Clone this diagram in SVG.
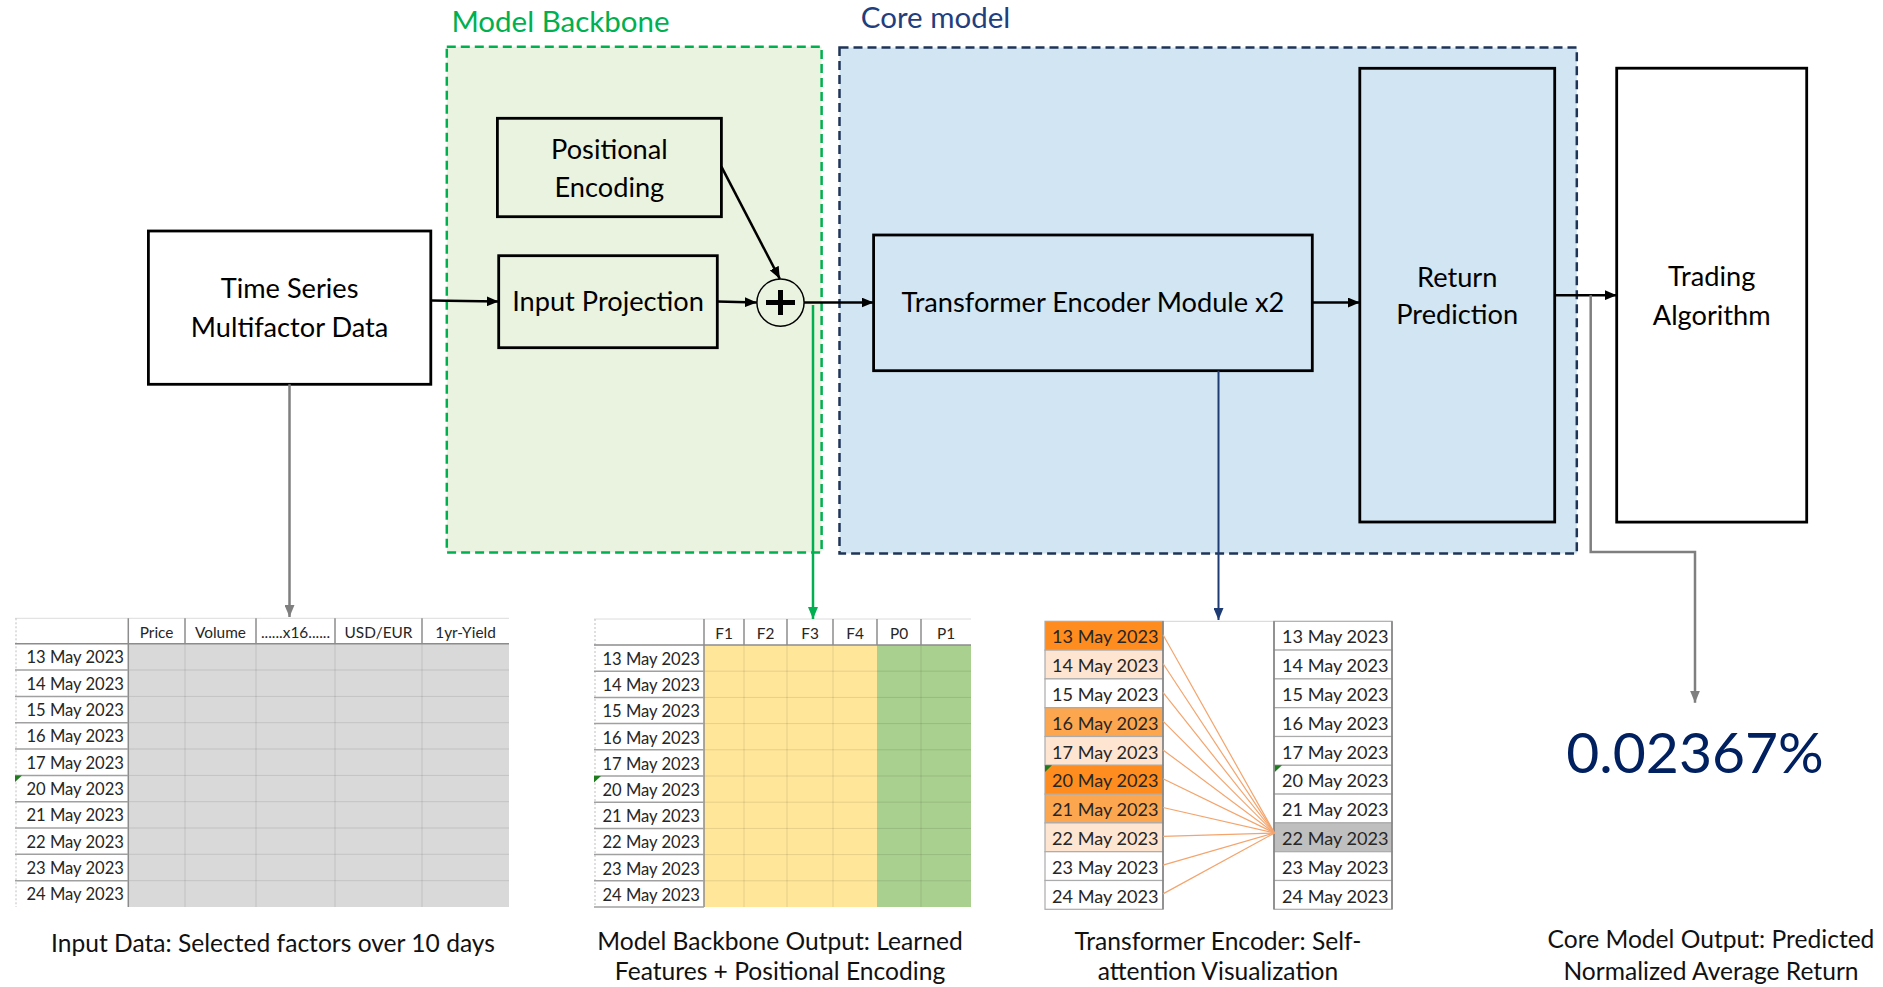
<svg xmlns="http://www.w3.org/2000/svg" width="1883" height="987" viewBox="0 0 1883 987">
  <style>
    text { font-family: Lato, "Liberation Sans", sans-serif; }
    .box { stroke: #000; stroke-width: 2.8; }
    .node { font-size: 27.2px; fill: #000; text-anchor: middle; }
    .hdr { font-size: 29.5px; }
    .cap { font-size: 24.6px; fill: #111; text-anchor: middle; }
    .date { font-size: 16.6px; fill: #262626; text-anchor: end; }
    .colh { font-size: 15.4px; fill: #262626; text-anchor: middle; }
    .date3 { font-size: 18.1px; fill: #262626; text-anchor: end; }
    .conn { stroke: #000; stroke-width: 2.5; fill: none; }
    .grid { stroke: #000; stroke-opacity: 0.1; stroke-width: 1; }
    .hsep { stroke: #8c8c8c; stroke-width: 1.5; }
    .rsep { stroke: #a0a0a0; stroke-width: 1.5; }
    .flag { fill: #1e7b1e; }
    .att { stroke: #f4a46c; stroke-width: 1.2; fill: none; }
    .cell3 { stroke: #ababab; stroke-width: 1.2; }
  </style>
  <defs>
    <marker id="arrow-black" markerUnits="userSpaceOnUse" markerWidth="12" markerHeight="10" refX="12" refY="5" orient="auto">
      <path d="M0,0 L12,5 L0,10 z" fill="#000"/>
    </marker>
    <marker id="arrow-grey" markerUnits="userSpaceOnUse" markerWidth="12" markerHeight="10" refX="12" refY="5" orient="auto">
      <path d="M0,0 L12,5 L0,10 z" fill="#7f7f7f"/>
    </marker>
    <marker id="arrow-green" markerUnits="userSpaceOnUse" markerWidth="12" markerHeight="10" refX="12" refY="5" orient="auto">
      <path d="M0,0 L12,5 L0,10 z" fill="#00b050"/>
    </marker>
    <marker id="arrow-navy" markerUnits="userSpaceOnUse" markerWidth="12" markerHeight="10" refX="12" refY="5" orient="auto">
      <path d="M0,0 L12,5 L0,10 z" fill="#1f3b73"/>
    </marker>
  </defs>

  <rect width="1883" height="987" fill="#fff"/>

  <!-- Model backbone group frame -->
  <g id="group-backbone">
    <rect x="446.8" y="46.7" width="374.8" height="505.7" fill="#e9f3df" stroke="#00b050" stroke-width="2.5" stroke-dasharray="9 5"/>
    <text class="hdr" x="451.4" y="31.7" fill="#00b050">Model Backbone</text>
  </g>

  <!-- Core model group frame -->
  <g id="group-core">
    <rect x="839.5" y="47.5" width="737.3" height="506" fill="#d1e5f2" stroke="#1f3557" stroke-width="2.5" stroke-dasharray="9 5"/>
    <text class="hdr" x="860.8" y="28.3" fill="#1f3f80">Core model</text>
  </g>

  <g id="node-timeseries">
    <rect class="box" x="148.4" y="231" width="282.4" height="153.3" fill="#fff"/>
    <text class="node" x="289.6" y="297.7">Time Series</text>
    <text class="node" x="289.6" y="336.7">Multifactor Data</text>
  </g>

  <g id="node-positional">
    <rect class="box" x="497.4" y="118.3" width="224" height="98.4" fill="#e9f3df"/>
    <text class="node" x="609.4" y="159.3">Positional</text>
    <text class="node" x="609.4" y="196.7">Encoding</text>
  </g>

  <g id="node-projection">
    <rect class="box" x="498.7" y="255.7" width="218.6" height="92" fill="#e9f3df"/>
    <text class="node" x="608" y="310.7">Input Projection</text>
  </g>

  <g id="node-add">
    <circle cx="780.5" cy="302.6" r="23.6" fill="none" stroke="#000" stroke-width="1.5"/>
    <path d="M766,302.6 H795 M780.5,290 V315" stroke="#000" stroke-width="5"/>
  </g>

  <g id="node-encoder">
    <rect class="box" x="873.6" y="235" width="438.7" height="135.7" fill="#d1e5f2"/>
    <text class="node" x="1093" y="311.7">Transformer Encoder Module x2</text>
  </g>

  <g id="node-return">
    <rect class="box" x="1359.8" y="68.3" width="194.9" height="453.7" fill="#d1e5f2"/>
    <text class="node" x="1457.2" y="286.7">Return</text>
    <text class="node" x="1457.2" y="324">Prediction</text>
  </g>

  <g id="node-trading">
    <rect class="box" x="1616.7" y="68.2" width="190" height="453.9" fill="#fff"/>
    <text class="node" x="1711.7" y="286.4">Trading</text>
    <text class="node" x="1711.7" y="324.6">Algorithm</text>
  </g>

  <!-- Input data table -->
  <g id="table-input">
    <rect x="128.3" y="643.7" width="380.7" height="263.3" fill="#d9d9d9"/>
    <line x1="15" y1="618.3" x2="509" y2="618.3" stroke="#dcdcdc" stroke-width="1"/>
    <line x1="16" y1="618.3" x2="16" y2="907" stroke="#bfbfbf" stroke-width="1" stroke-dasharray="2 2"/>
    <g class="grid">
      <line x1="128.3" y1="670" x2="509" y2="670"/>
      <line x1="128.3" y1="696.4" x2="509" y2="696.4"/>
      <line x1="128.3" y1="722.7" x2="509" y2="722.7"/>
      <line x1="128.3" y1="749" x2="509" y2="749"/>
      <line x1="128.3" y1="775.4" x2="509" y2="775.4"/>
      <line x1="128.3" y1="801.7" x2="509" y2="801.7"/>
      <line x1="128.3" y1="828" x2="509" y2="828"/>
      <line x1="128.3" y1="854.3" x2="509" y2="854.3"/>
      <line x1="128.3" y1="880.7" x2="509" y2="880.7"/>
      <line x1="185" y1="643.7" x2="185" y2="907"/>
      <line x1="256" y1="643.7" x2="256" y2="907"/>
      <line x1="335" y1="643.7" x2="335" y2="907"/>
      <line x1="422" y1="643.7" x2="422" y2="907"/>
    </g>
    <g class="hsep">
      <line x1="185" y1="618.3" x2="185" y2="643.7"/>
      <line x1="256" y1="618.3" x2="256" y2="643.7"/>
      <line x1="335" y1="618.3" x2="335" y2="643.7"/>
      <line x1="422" y1="618.3" x2="422" y2="643.7"/>
      <line x1="128.3" y1="618.3" x2="128.3" y2="907"/>
      <line x1="15" y1="643.7" x2="509" y2="643.7"/>
    </g>
    <g class="rsep">
      <line x1="15" y1="670" x2="128.3" y2="670"/>
      <line x1="15" y1="696.4" x2="128.3" y2="696.4"/>
      <line x1="15" y1="722.7" x2="128.3" y2="722.7"/>
      <line x1="15" y1="749" x2="128.3" y2="749"/>
      <line x1="15" y1="775.4" x2="128.3" y2="775.4"/>
      <line x1="15" y1="801.7" x2="128.3" y2="801.7"/>
      <line x1="15" y1="828" x2="128.3" y2="828"/>
      <line x1="15" y1="854.3" x2="128.3" y2="854.3"/>
      <line x1="15" y1="880.7" x2="128.3" y2="880.7"/>
    </g>
    <path class="flag" d="M15,775.4 H22 L15,782 z"/>
    <text class="colh" x="156.6" y="637.5">Price</text>
    <text class="colh" x="220.5" y="637.5">Volume</text>
    <text class="colh" x="295.5" y="637.5">......x16......</text>
    <text class="colh" x="378.5" y="637.5">USD/EUR</text>
    <text class="colh" x="465.5" y="637.5">1yr-Yield</text>
    <text class="date" x="124" y="663.3">13 May 2023</text>
    <text class="date" x="124" y="689.6">14 May 2023</text>
    <text class="date" x="124" y="716">15 May 2023</text>
    <text class="date" x="124" y="742.3">16 May 2023</text>
    <text class="date" x="124" y="768.6">17 May 2023</text>
    <text class="date" x="124" y="795">20 May 2023</text>
    <text class="date" x="124" y="821.3">21 May 2023</text>
    <text class="date" x="124" y="847.6">22 May 2023</text>
    <text class="date" x="124" y="873.9">23 May 2023</text>
    <text class="date" x="124" y="900.3">24 May 2023</text>
    <text class="cap" x="273" y="951.5">Input Data: Selected factors over 10 days</text>
  </g>

  <!-- Backbone output table -->
  <g id="table-backbone">
    <rect x="704" y="645" width="173" height="262" fill="#ffe699"/>
    <rect x="877" y="645" width="94" height="262" fill="#a9d08e"/>
    <line x1="594" y1="619" x2="971" y2="619" stroke="#dcdcdc" stroke-width="1"/>
    <line x1="595" y1="619" x2="595" y2="907" stroke="#bfbfbf" stroke-width="1" stroke-dasharray="2 2"/>
    <g class="grid">
      <line x1="704" y1="671.2" x2="971" y2="671.2"/>
      <line x1="704" y1="697.4" x2="971" y2="697.4"/>
      <line x1="704" y1="723.6" x2="971" y2="723.6"/>
      <line x1="704" y1="749.8" x2="971" y2="749.8"/>
      <line x1="704" y1="776" x2="971" y2="776"/>
      <line x1="704" y1="802.2" x2="971" y2="802.2"/>
      <line x1="704" y1="828.4" x2="971" y2="828.4"/>
      <line x1="704" y1="854.6" x2="971" y2="854.6"/>
      <line x1="704" y1="880.8" x2="971" y2="880.8"/>
      <line x1="744" y1="645" x2="744" y2="907"/>
      <line x1="787" y1="645" x2="787" y2="907"/>
      <line x1="833" y1="645" x2="833" y2="907"/>
      <line x1="921" y1="645" x2="921" y2="907"/>
    </g>
    <g class="hsep">
      <line x1="744" y1="619" x2="744" y2="645"/>
      <line x1="787" y1="619" x2="787" y2="645"/>
      <line x1="833" y1="619" x2="833" y2="645"/>
      <line x1="877" y1="619" x2="877" y2="645"/>
      <line x1="921" y1="619" x2="921" y2="645"/>
      <line x1="704" y1="619" x2="704" y2="907"/>
      <line x1="594" y1="645" x2="971" y2="645"/>
    </g>
    <g class="rsep">
      <line x1="594" y1="671.2" x2="704" y2="671.2"/>
      <line x1="594" y1="697.4" x2="704" y2="697.4"/>
      <line x1="594" y1="723.6" x2="704" y2="723.6"/>
      <line x1="594" y1="749.8" x2="704" y2="749.8"/>
      <line x1="594" y1="776" x2="704" y2="776"/>
      <line x1="594" y1="802.2" x2="704" y2="802.2"/>
      <line x1="594" y1="828.4" x2="704" y2="828.4"/>
      <line x1="594" y1="854.6" x2="704" y2="854.6"/>
      <line x1="594" y1="880.8" x2="704" y2="880.8"/>
      <line x1="594" y1="907" x2="704" y2="907"/>
    </g>
    <path class="flag" d="M594,776 H601 L594,782.6 z"/>
    <text class="colh" x="724" y="639">F1</text>
    <text class="colh" x="765.5" y="639">F2</text>
    <text class="colh" x="810" y="639">F3</text>
    <text class="colh" x="855" y="639">F4</text>
    <text class="colh" x="899" y="639">P0</text>
    <text class="colh" x="946" y="639">P1</text>
    <text class="date" x="700" y="665">13 May 2023</text>
    <text class="date" x="700" y="691.2">14 May 2023</text>
    <text class="date" x="700" y="717.4">15 May 2023</text>
    <text class="date" x="700" y="743.6">16 May 2023</text>
    <text class="date" x="700" y="769.8">17 May 2023</text>
    <text class="date" x="700" y="796">20 May 2023</text>
    <text class="date" x="700" y="822.2">21 May 2023</text>
    <text class="date" x="700" y="848.4">22 May 2023</text>
    <text class="date" x="700" y="874.6">23 May 2023</text>
    <text class="date" x="700" y="900.8">24 May 2023</text>
    <text class="cap" x="780" y="950">Model Backbone Output: Learned</text>
    <text class="cap" x="780" y="980">Features + Positional Encoding</text>
  </g>

  <!-- Self-attention table -->
  <g id="table-attention">
    <line x1="1163" y1="621.3" x2="1274" y2="621.3" stroke="#d4d4d4" stroke-width="1"/>
    <g class="cell3">
      <rect x="1045" y="621.3" width="118" height="28.8" fill="#ff8c1f"/>
      <rect x="1045" y="650.1" width="118" height="28.8" fill="#fde5d2"/>
      <rect x="1045" y="678.9" width="118" height="28.8" fill="#fff"/>
      <rect x="1045" y="707.7" width="118" height="28.8" fill="#fda650"/>
      <rect x="1045" y="736.5" width="118" height="28.8" fill="#fde5d2"/>
      <rect x="1045" y="765.3" width="118" height="28.8" fill="#ff8c1f"/>
      <rect x="1045" y="794.1" width="118" height="28.8" fill="#fda650"/>
      <rect x="1045" y="822.9" width="118" height="28.8" fill="#fde5d2"/>
      <rect x="1045" y="851.7" width="118" height="28.8" fill="#fff"/>
      <rect x="1045" y="880.5" width="118" height="28.8" fill="#fff"/>
      <rect x="1274" y="621.3" width="118" height="28.8" fill="#fff"/>
      <rect x="1274" y="650.1" width="118" height="28.8" fill="#fff"/>
      <rect x="1274" y="678.9" width="118" height="28.8" fill="#fff"/>
      <rect x="1274" y="707.7" width="118" height="28.8" fill="#fff"/>
      <rect x="1274" y="736.5" width="118" height="28.8" fill="#fff"/>
      <rect x="1274" y="765.3" width="118" height="28.8" fill="#fff"/>
      <rect x="1274" y="794.1" width="118" height="28.8" fill="#fff"/>
      <rect x="1274" y="822.9" width="118" height="28.8" fill="#bfbfbf"/>
      <rect x="1274" y="851.7" width="118" height="28.8" fill="#fff"/>
      <rect x="1274" y="880.5" width="118" height="28.8" fill="#fff"/>
    </g>
    <g stroke="#7f7f7f" stroke-width="1.5">
      <line x1="1163" y1="621.3" x2="1163" y2="909.3"/>
      <line x1="1274" y1="621.3" x2="1274" y2="909.3"/>
      <line x1="1392" y1="621.3" x2="1392" y2="909.3"/>
    </g>
    <path class="flag" d="M1045,765.3 H1052 L1045,772 z"/>
    <path class="flag" d="M1274.8,765.3 H1282 L1274.8,772 z"/>
    <g class="att">
      <line x1="1163" y1="634.7" x2="1274.5" y2="833"/>
      <line x1="1163" y1="663.5" x2="1274.5" y2="833"/>
      <line x1="1163" y1="692.3" x2="1274.5" y2="833"/>
      <line x1="1163" y1="721.1" x2="1274.5" y2="833"/>
      <line x1="1163" y1="749.9" x2="1274.5" y2="833"/>
      <line x1="1163" y1="778.7" x2="1274.5" y2="833"/>
      <line x1="1163" y1="807.5" x2="1274.5" y2="833"/>
      <line x1="1163" y1="836.3" x2="1274.5" y2="833"/>
      <line x1="1163" y1="865.1" x2="1274.5" y2="833"/>
      <line x1="1163" y1="893.9" x2="1274.5" y2="833"/>
    </g>
    <text class="date3" x="1158.5" y="643.3">13 May 2023</text>
    <text class="date3" x="1158.5" y="672.1">14 May 2023</text>
    <text class="date3" x="1158.5" y="700.9">15 May 2023</text>
    <text class="date3" x="1158.5" y="729.7">16 May 2023</text>
    <text class="date3" x="1158.5" y="758.5">17 May 2023</text>
    <text class="date3" x="1158.5" y="787.3">20 May 2023</text>
    <text class="date3" x="1158.5" y="816.1">21 May 2023</text>
    <text class="date3" x="1158.5" y="844.9">22 May 2023</text>
    <text class="date3" x="1158.5" y="873.7">23 May 2023</text>
    <text class="date3" x="1158.5" y="902.5">24 May 2023</text>
    <text class="date3" x="1388.5" y="643.3">13 May 2023</text>
    <text class="date3" x="1388.5" y="672.1">14 May 2023</text>
    <text class="date3" x="1388.5" y="700.9">15 May 2023</text>
    <text class="date3" x="1388.5" y="729.7">16 May 2023</text>
    <text class="date3" x="1388.5" y="758.5">17 May 2023</text>
    <text class="date3" x="1388.5" y="787.3">20 May 2023</text>
    <text class="date3" x="1388.5" y="816.1">21 May 2023</text>
    <text class="date3" x="1388.5" y="844.9">22 May 2023</text>
    <text class="date3" x="1388.5" y="873.7">23 May 2023</text>
    <text class="date3" x="1388.5" y="902.5">24 May 2023</text>
    <text class="cap" x="1218" y="950">Transformer Encoder: Self-</text>
    <text class="cap" x="1218" y="980">attention Visualization</text>
  </g>

  <!-- Predicted output value -->
  <g id="output-value">
    <text x="1695" y="773.3" font-size="57" fill="#002060" text-anchor="middle">0.02367%</text>
    <text class="cap" x="1711" y="948.3">Core Model Output: Predicted</text>
    <text class="cap" x="1711" y="980">Normalized Average Return</text>
  </g>

  <g id="connectors">
    <line class="conn" x1="430.8" y1="300.5" x2="498.7" y2="301.5" marker-end="url(#arrow-black)"/>
    <line class="conn" x1="717.3" y1="301.5" x2="756.8" y2="302.5" marker-end="url(#arrow-black)"/>
    <line class="conn" x1="721.4" y1="166.7" x2="779.8" y2="278.8" marker-end="url(#arrow-black)"/>
    <line class="conn" x1="804.1" y1="302.5" x2="873.6" y2="302.5" marker-end="url(#arrow-black)"/>
    <line class="conn" x1="1312.3" y1="302.5" x2="1359.8" y2="302.5" marker-end="url(#arrow-black)"/>
    <line class="conn" x1="1554.7" y1="295.2" x2="1616.7" y2="295.2" marker-end="url(#arrow-black)"/>
    <line x1="289.5" y1="384.3" x2="289.5" y2="617" stroke="#7f7f7f" stroke-width="2.5" marker-end="url(#arrow-grey)"/>
    <line x1="813" y1="305" x2="813" y2="619" stroke="#00b050" stroke-width="2.5" marker-end="url(#arrow-green)"/>
    <line x1="1218.5" y1="370.7" x2="1218.5" y2="620" stroke="#1f3b73" stroke-width="2" marker-end="url(#arrow-navy)"/>
    <polyline points="1590.7,295.2 1590.7,552 1695,552 1695,702.7" fill="none" stroke="#7f7f7f" stroke-width="2.5" marker-end="url(#arrow-grey)"/>
  </g>
</svg>
